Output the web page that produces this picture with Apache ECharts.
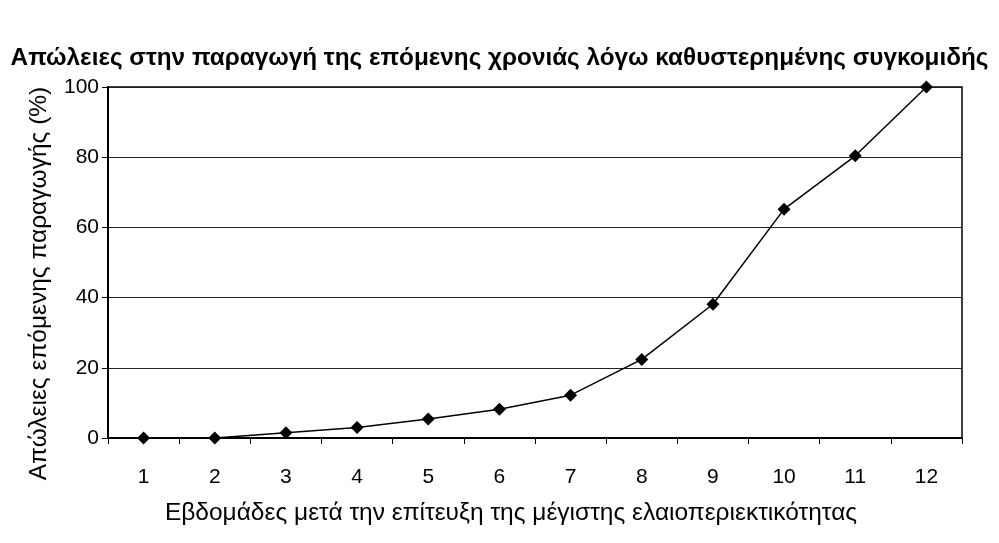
<!DOCTYPE html>
<html>
<head>
<meta charset="utf-8">
<script src="https://cdn.jsdelivr.net/npm/echarts@6/dist/echarts.min.js"></script>
<style>html,body{margin:0;padding:0;background:#fff;}#c{width:999px;height:543px;}</style>
</head>
<body>
<div id="c"></div>
<script>
const titleText = 'Απώλειες στην παραγωγή της επόμενης χρονιάς λόγω καθυστερημένης συγκομιδής';
const xName = 'Εβδομάδες μετά την επίτευξη της μέγιστης ελαιοπεριεκτικότητας';
const yName = 'Απώλειες επόμενης παραγωγής (%)';
const weeks = ['1','2','3','4','5','6','7','8','9','10','11','12'];
const losses = [0, 0, 1.5, 3, 5.4, 8.2, 12.2, 22.4, 38.1, 65.2, 80.4, 100];

const chart = echarts.init(document.getElementById('c'));
chart.setOption({
  animation: false,
  backgroundColor: '#fff',
  title: {
    text: titleText,
    left: 'center',
    top: 41,
    textStyle: { fontFamily: 'Liberation Sans', fontWeight: 'bold', fontSize: 24.3, color: '#000' }
  },
  grid: { left: 108, right: 37, top: 87, bottom: 105, show: true, borderColor: '#000', borderWidth: 1.5 },
  xAxis: {
    type: 'category',
    data: weeks,
    boundaryGap: true,
    name: xName,
    nameLocation: 'middle',
    nameGap: 63,
    nameTextStyle: { fontFamily: 'Liberation Sans', fontSize: 24.5, color: '#000', padding: [0, 48, 0, 0] },
    axisLine: { lineStyle: { color: '#000', width: 2 } },
    axisTick: { show: true, length: 6, lineStyle: { color: '#000' } },
    axisLabel: { margin: 29, fontFamily: 'Liberation Sans', fontSize: 21, color: '#000' }
  },
  yAxis: {
    type: 'value',
    min: 0, max: 100, interval: 20,
    name: yName,
    nameLocation: 'middle',
    nameGap: 56,
    nameTextStyle: { fontFamily: 'Liberation Sans', fontSize: 24.5, color: '#000', padding: [0, 0, 0, -42] },
    axisLine: { show: true, lineStyle: { color: '#000', width: 2 } },
    axisTick: { show: true, length: 6, lineStyle: { color: '#000' } },
    axisLabel: { margin: 9, fontFamily: 'Liberation Sans', fontSize: 21, color: '#000' },
    splitLine: { show: true, lineStyle: { color: '#222', width: 1.2 } }
  },
  series: [{
    type: 'line',
    data: losses,
    symbol: 'diamond',
    symbolSize: 13,
    itemStyle: { color: '#000' },
    lineStyle: { color: '#000', width: 1.5 }
  }]
});
</script>
</body>
</html>
